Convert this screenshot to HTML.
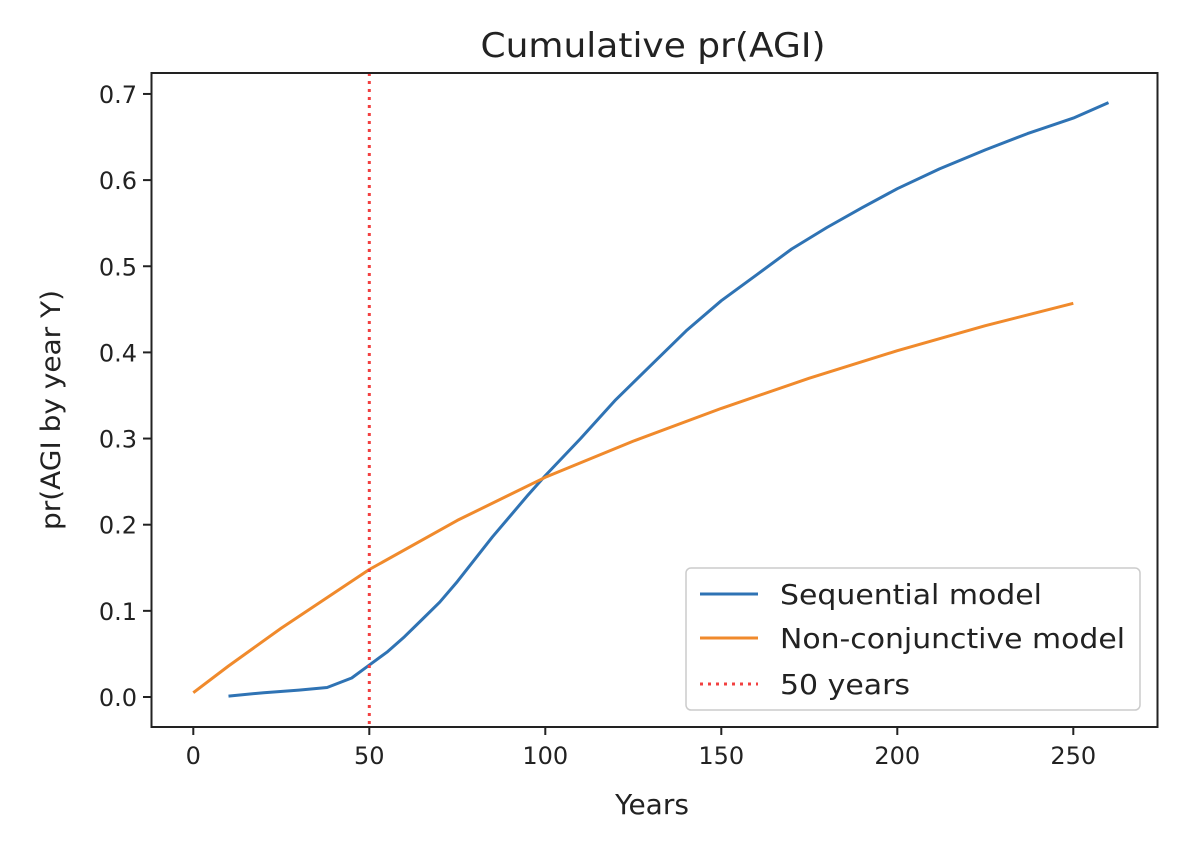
<!DOCTYPE html>
<html><head><meta charset="utf-8"><style>
body{margin:0;background:#fff}
svg text{font-family:"DejaVu Sans","Liberation Sans",sans-serif;fill:#222}
</style></head><body>
<svg id="s" width="1198" height="844" xmlns="http://www.w3.org/2000/svg">
<rect width="1198" height="844" fill="#fff"/>
<text x="653" y="57" font-size="34" text-anchor="middle" textLength="345" lengthAdjust="spacingAndGlyphs">Cumulative pr(AGI)</text>
<g id="ticks"></g>
<path id="blue" fill="none" stroke="#2f73b4" stroke-width="3" stroke-linejoin="round"/>
<path id="orange" fill="none" stroke="#f08a2c" stroke-width="3" stroke-linejoin="round"/>
<line x1="369.3" y1="73" x2="369.3" y2="727" stroke="#f24040" stroke-width="3" stroke-dasharray="3,5"/>
<rect x="151.5" y="73" width="1006" height="654" fill="none" stroke="#222" stroke-width="2"/>
<text x="652" y="814" font-size="28" text-anchor="middle">Years</text>
<text transform="translate(60,410) rotate(-90)" font-size="27" text-anchor="middle" textLength="240" lengthAdjust="spacingAndGlyphs">pr(AGI by year Y)</text>
<rect x="686" y="568" width="454" height="142" rx="5" fill="#fff" stroke="#ccc" stroke-width="1.5"/>
<line x1="700" y1="594" x2="758" y2="594" stroke="#2f73b4" stroke-width="3"/>
<line x1="700" y1="638" x2="758" y2="638" stroke="#f08a2c" stroke-width="3"/>
<line x1="700" y1="684" x2="758" y2="684" stroke="#f24040" stroke-width="3" stroke-dasharray="3,5"/>
<text x="780" y="604" font-size="28" textLength="262" lengthAdjust="spacingAndGlyphs">Sequential model</text>
<text x="780" y="648" font-size="28" textLength="345" lengthAdjust="spacingAndGlyphs">Non-conjunctive model</text>
<text x="780" y="694" font-size="28" textLength="130" lengthAdjust="spacingAndGlyphs">50 years</text>
</svg>
<script>
const X=x=>193.3+3.52*x, Y=y=>697-861.5*y;
const NS="http://www.w3.org/2000/svg";
const g=document.getElementById("ticks");
function add(tag,attrs,txt){const e=document.createElementNS(NS,tag);for(const k in attrs)e.setAttribute(k,attrs[k]);if(txt!==undefined)e.textContent=txt;g.appendChild(e);}
[0,50,100,150,200,250].forEach(v=>{add("line",{x1:X(v),x2:X(v),y1:727,y2:735,stroke:"#222","stroke-width":2});add("text",{x:X(v),y:764,"font-size":24,"text-anchor":"middle"},String(v));});
for(let i=0;i<=7;i++){const v=i/10;add("line",{x1:143,x2:151,y1:Y(v),y2:Y(v),stroke:"#222","stroke-width":2});add("text",{x:137,y:Y(v)+9,"font-size":24,"text-anchor":"end"},v.toFixed(1));}
function path(pts){let d="";pts.forEach((p,i)=>{d+=(i?"L":"M")+X(p[0]).toFixed(1)+","+Y(p[1]).toFixed(1);});return d;}
const o=[[0,0.005],[10,0.036],[25,0.08],[50,0.148],[75,0.205],[100,0.255],[125,0.297],[150,0.335],[175,0.37],[200,0.402],[225,0.431],[250,0.457]];
const b=[[10,0.001],[20,0.005],[30,0.008],[38,0.011],[45,0.022],[50,0.037],[55,0.052],[60,0.07],[65,0.09],[70,0.11],[75,0.134],[80,0.16],[85,0.186],[90,0.21],[95,0.234],[100,0.257],[110,0.30],[120,0.345],[130,0.385],[140,0.425],[150,0.46],[160,0.49],[170,0.52],[180,0.545],[190,0.568],[200,0.59],[212,0.613],[225,0.635],[237,0.654],[250,0.672],[260,0.69]];
document.getElementById("orange").setAttribute("d",path(o));
document.getElementById("blue").setAttribute("d",path(b));
</script>
</body></html>
